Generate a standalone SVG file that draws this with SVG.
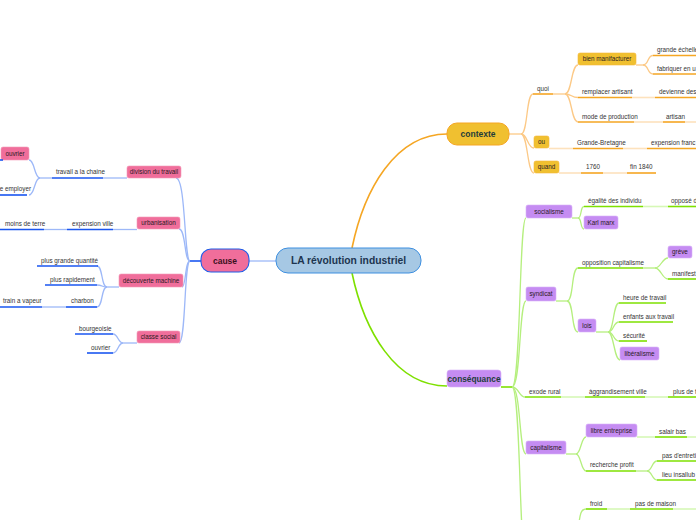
<svg xmlns="http://www.w3.org/2000/svg" width="696" height="520" viewBox="0 0 696 520">
<style>
text{font-family:"Liberation Sans",Arial,sans-serif;font-size:6.3px;fill:#333}
.c{text-anchor:middle}
.e{text-anchor:end}
.n{fill:#2a1a22}
.bold{font-weight:bold}
.ub{stroke:#1a56f0;stroke-width:1.6}
.uo{stroke:#f5a623;stroke-width:1.6}
.ug{stroke:#7ee000;stroke-width:1.6}
.cb{fill:none;stroke:#9db8f8;stroke-width:1.3}
.co{fill:none;stroke:#fcc986;stroke-width:1.3}
.cg{fill:none;stroke:#b5ef7e;stroke-width:1.3}
.pb{stroke:#c5d5fb;stroke-width:1.6}
.po{stroke:#fde2bd;stroke-width:1.6}
.pg{stroke:#d6f8b6;stroke-width:1.6}
.pink{fill:#f06e9b;stroke:#f49ab9;stroke-width:0.6}
.gold{fill:#f0c030;stroke:#f5b73a;stroke-width:0.6}
.purple{fill:#c58cf2;stroke:#d8b2f8;stroke-width:0.6}
</style>
<rect width="696" height="520" fill="#ffffff"/>

<g id="connectors">
  <!-- central branches -->
  <path class="cb" d="M249 261 H276"/>
  <path d="M352 248 C364 190 395 134 447 134" fill="none" stroke="#f5a623" stroke-width="1.6"/>
  <path d="M352 273 C364 330 395 386 447 386" fill="none" stroke="#7ee000" stroke-width="1.6"/>

  <!-- cause -->
  <path class="ub" d="M190 261 H201"/>
  <path class="cb" d="M190 261 C184 261 186 178 176 178"/>
  <path class="cb" d="M190 261 C184 261 186 229 179 229"/>
  <path class="cb" d="M190 261 C185 261 186 287 182 287"/>
  <path class="cb" d="M190 261 C184 261 186 343 179 343"/>

  <path class="cb" d="M103 178 H127"/>
  <path class="cb" d="M40 178 H52"/>
  <path class="cb" d="M40 178 C34 178 35 160 29 160"/>
  <path class="cb" d="M40 178 C34 178 35 195 29 195"/>

  <path class="cb" d="M113 229.5 H137"/>
  <path class="cb" d="M44 229.5 H67"/>

  <path class="cb" d="M107 287 H119"/>
  <path class="cb" d="M107 287 C101 287 103 266 97 266"/>
  <path class="cb" d="M107 287 C101 287 103 285 97 285"/>
  <path class="cb" d="M107 287 C101 287 103 307 97 307"/>
  <path class="cb" d="M42 307 H66"/>

  <path class="cb" d="M123 343 H137"/>
  <path class="cb" d="M123 343 C118 343 118 334 113 334"/>
  <path class="cb" d="M123 343 C118 343 118 353 113 353"/>

  <!-- contexte -->
  <path class="co" d="M509 134 H521"/>
  <path class="co" d="M521 134 C528 134 526 94 533 94"/>
  <path class="co" d="M521 134 C528 134 527 148 534 148"/>
  <path class="co" d="M521 134 C528 134 527 173 534 173"/>
  <path class="co" d="M553 94 H565"/>
  <path class="co" d="M565 94 C572 94 571 65 578 65"/>
  <path class="co" d="M565 94 C572 94 571 97.5 578 97.5"/>
  <path class="co" d="M565 94 C572 94 571 122 578 122"/>
  <path class="po" d="M632 97.5 H655"/>
  <path class="po" d="M634 122 H663"/>
  <path class="po" d="M685 122 H696"/>
  <path class="co" d="M636 65 H643"/>
  <path class="co" d="M643 65 C649 65 647 55.5 653 55.5"/>
  <path class="co" d="M643 65 C649 65 647 74 653 74"/>
  <path class="po" d="M549 148.5 H573"/>
  <path class="po" d="M623 148.5 H647"/>
  <path class="po" d="M559 173 H581"/>
  <path class="po" d="M603 173 H627"/>

  <!-- conséquance -->
  <path class="ug" d="M501 387 H512"/>
  <path class="cg" d="M512 387 C521 387 519 218 526 218"/>
  <path class="cg" d="M512 387 C521 387 519 301 526 301"/>
  <path class="cg" d="M512 387 C519 387 519 397 525 397"/>
  <path class="cg" d="M512 387 C521 387 519 454 526 454"/>
  <path class="cg" d="M512 387 C521 387 519 560 526 560"/>

  <path class="cg" d="M572 218 H578"/>
  <path class="cg" d="M578 218 C582 218 580 206.5 584 206.5"/>
  <path class="cg" d="M578 218 C582 218 580 229 584 229"/>
  <path class="pg" d="M643 206.5 H668"/>

  <path class="cg" d="M556 301 H567"/>
  <path class="cg" d="M567 301 C574 301 571 268 578 268"/>
  <path class="cg" d="M567 301 C574 301 571 332 578 332"/>
  <path class="cg" d="M643 268 H655"/>
  <path class="cg" d="M655 268 C661 268 662 258 668 258"/>
  <path class="cg" d="M655 268 C661 268 662 279 668 279"/>
  <path class="cg" d="M596 332 H608"/>
  <path class="cg" d="M608 332 C614 332 613 303 619 303"/>
  <path class="cg" d="M608 332 C614 332 613 322 619 322"/>
  <path class="cg" d="M608 332 C614 332 613 341 619 341"/>
  <path class="cg" d="M608 332 C614 332 614 360 620 360"/>

  <path class="pg" d="M561 397 H585"/>
  <path class="pg" d="M645 397 H668"/>

  <path class="cg" d="M566 454 H576"/>
  <path class="cg" d="M576 454 C581 454 581 437 586 437"/>
  <path class="cg" d="M576 454 C581 454 581 471 586 471"/>
  <path class="pg" d="M637 437 H655"/>
  <path class="pg" d="M687 437 H696"/>
  <path class="cg" d="M636 471 H647"/>
  <path class="cg" d="M647 471 C652 471 652 461 657 461"/>
  <path class="cg" d="M647 471 C652 471 652 480 657 480"/>
  <path class="cg" d="M586 509 C580 509 580 516 578 530"/>
  <path class="pg" d="M607 509 H630"/>
  <path class="pg" d="M673 509 H696"/>
</g>

<!-- central -->
<g id="central">
  <rect x="276" y="248" width="145" height="25" rx="12" fill="#a6c8e4" stroke="#3d8fe0" stroke-width="1"/>
  <text x="348.5" y="264.3" class="c bold" style="font-size:10.3px;fill:#1d3550">LA révolution industriel</text>
</g>

<!-- cause branch -->
<g id="cause">
  <rect x="201" y="249" width="48" height="23" rx="10" fill="#f06e9b" stroke="#1f5ce8" stroke-width="1.1"/>
  <text x="225" y="263.5" class="c bold" style="font-size:8.5px;fill:#3a1020">cause</text>
</g>
<g id="division-du-travail">
  <rect class="pink" x="127" y="166" width="54" height="12" rx="2"/>
  <text x="154" y="174.2" class="c n">division du travail</text>
</g>
<g id="travail-a-la-chaine">
  <text x="56" y="174">travail a la chaine</text>
  <path class="ub" d="M52 178 H103"/>
</g>
<g id="ouvrier-1">
  <rect class="pink" x="1" y="147" width="28" height="13" rx="2"/>
  <text x="15" y="155.7" class="c n">ouvrier</text>
  <path class="ub" d="M0 160 H3"/>
</g>
<g id="employer">
  <text x="31" y="191" class="e">e employer</text>
  <path class="ub" d="M0 195 H27"/>
</g>
<g id="urbanisation">
  <rect class="pink" x="137" y="217" width="43" height="12" rx="2"/>
  <text x="158.5" y="225.2" class="c n">urbanisation</text>
</g>
<g id="expension-ville">
  <text x="72" y="225.5">expension ville</text>
  <path class="ub" d="M67 229.5 H113"/>
</g>
<g id="moins-de-terre">
  <text x="5" y="225.5">moins de terre</text>
  <path class="ub" d="M0 229.5 H44"/>
</g>
<g id="decouverte-machine">
  <rect class="pink" x="119" y="274" width="64" height="13" rx="2"/>
  <text x="151" y="282.7" class="c n">découverte machine</text>
</g>
<g id="plus-grande-quantite">
  <text x="41" y="262.5">plus grande quantité</text>
  <path class="ub" d="M37 266 H98"/>
</g>
<g id="plus-rapidement">
  <text x="50" y="281.5">plus rapidement</text>
  <path class="ub" d="M45 285 H97"/>
</g>
<g id="charbon">
  <text x="71" y="303">charbon</text>
  <path class="ub" d="M66 307 H97"/>
</g>
<g id="train-a-vapeur">
  <text x="3" y="303">train a vapeur</text>
  <path class="ub" d="M0 307 H42"/>
</g>
<g id="classe-social">
  <rect class="pink" x="137" y="331" width="43" height="12" rx="2"/>
  <text x="158.5" y="339.2" class="c n">classe social</text>
</g>
<g id="bourgeoisie">
  <text x="79" y="330.5">bourgeoisie</text>
  <path class="ub" d="M75 334 H113"/>
</g>
<g id="ouvrier-2">
  <text x="91" y="349.5">ouvrier</text>
  <path class="ub" d="M87 353 H113"/>
</g>

<!-- contexte branch -->
<g id="contexte">
  <rect x="447" y="123" width="62" height="22" rx="10" fill="#f0c030" stroke="#f5a623" stroke-width="1"/>
  <text x="478" y="137" class="c bold" style="font-size:8.5px;fill:#1f3d3a">contexte</text>
</g>
<g id="quoi">
  <text x="537" y="90.5">quoi</text>
  <path class="uo" d="M533 94 H553"/>
</g>
<g id="bien-manifacturer">
  <rect class="gold" x="578" y="53" width="58" height="12" rx="2"/>
  <text x="607" y="61.2" class="c n">bien manifacturer</text>
</g>
<g id="grande-echelle">
  <text x="657" y="52">grande échelle</text>
  <path class="uo" d="M653 55.5 H696"/>
</g>
<g id="fabriquer">
  <text x="657" y="70.5">fabriquer en u</text>
  <path class="uo" d="M653 74 H696"/>
</g>
<g id="remplacer-artisant">
  <text x="582" y="93.5">remplacer artisant</text>
  <path class="uo" d="M578 97.5 H632"/>
</g>
<g id="devienne">
  <text x="659" y="93.5">devienne des</text>
  <path class="uo" d="M655 97.5 H696"/>
</g>
<g id="mode-de-production">
  <text x="582" y="118.5">mode de production</text>
  <path class="uo" d="M578 122 H634"/>
</g>
<g id="artisan">
  <text x="666" y="118.5">artisan</text>
  <path class="uo" d="M663 122 H685"/>
</g>
<g id="ou">
  <rect class="gold" x="534" y="136" width="15" height="12" rx="2"/>
  <text x="541.5" y="144.2" class="c n">ou</text>
</g>
<g id="grande-bretagne">
  <text x="577" y="145">Grande-Bretagne</text>
  <path class="uo" d="M573 148.5 H623"/>
</g>
<g id="expension-franc">
  <text x="651" y="145">expension franc</text>
  <path class="uo" d="M647 148.5 H696"/>
</g>
<g id="quand">
  <rect class="gold" x="534" y="161" width="25" height="12" rx="2"/>
  <text x="546.5" y="169.2" class="c n">quand</text>
</g>
<g id="y1760">
  <text x="586" y="169">1760</text>
  <path class="uo" d="M581 173 H603"/>
</g>
<g id="fin-1840">
  <text x="630" y="169">fin 1840</text>
  <path class="uo" d="M627 173 H656"/>
</g>

<!-- conséquance branch -->
<g id="consequance">
  <rect x="447" y="370" width="54" height="17" rx="3" fill="#c58cf2" stroke="#d8b2f8" stroke-width="0.6"/>
  <text x="474" y="381.5" class="c bold" style="font-size:8.3px;fill:#1d3d3a">conséquance</text>
</g>
<g id="socialisme">
  <rect class="purple" x="526" y="205" width="46" height="13" rx="2"/>
  <text x="549" y="213.7" class="c n">socialisme</text>
</g>
<g id="egalite">
  <text x="588" y="203">égalité  des individu</text>
  <path class="ug" d="M584 206.5 H643"/>
</g>
<g id="oppose">
  <text x="671" y="203">opposé d</text>
  <path class="ug" d="M668 206.5 H696"/>
</g>
<g id="karl-marx">
  <rect class="purple" x="584" y="216" width="34" height="13" rx="2"/>
  <text x="601" y="224.7" class="c n">Karl marx</text>
</g>
<g id="syndicat">
  <rect class="purple" x="526" y="287" width="30" height="14" rx="2"/>
  <text x="541" y="296.2" class="c n">syndicat</text>
</g>
<g id="opposition-capitalisme">
  <text x="582" y="264.5">opposition capitalisme</text>
  <path class="ug" d="M578 268 H643"/>
</g>
<g id="greve">
  <rect class="purple" x="668" y="246" width="24" height="12" rx="2"/>
  <text x="680" y="254.2" class="c n">grève</text>
</g>
<g id="manifest">
  <text x="672" y="275.5">manifest</text>
  <path class="ug" d="M668 279 H696"/>
</g>
<g id="lois">
  <rect class="purple" x="578" y="319" width="18" height="13" rx="2"/>
  <text x="587" y="327.7" class="c n">lois</text>
</g>
<g id="heure-de-travail">
  <text x="623" y="299.5">heure de travail</text>
  <path class="ug" d="M619 303 H666"/>
</g>
<g id="enfants">
  <text x="623" y="318.5">enfants aux travail</text>
  <path class="ug" d="M619 322 H673"/>
</g>
<g id="securite">
  <text x="623" y="337.5">sécurité</text>
  <path class="ug" d="M619 341 H647"/>
</g>
<g id="liberalisme">
  <rect class="purple" x="620" y="347" width="39" height="13" rx="2"/>
  <text x="639.5" y="355.7" class="c n">libéralisme</text>
</g>
<g id="exode-rural">
  <text x="529" y="393.5">exode rural</text>
  <path class="ug" d="M525 397 H561"/>
</g>
<g id="aggrandisement">
  <text x="589" y="393.5">àggrandisement ville</text>
  <path class="ug" d="M585 397 H645"/>
</g>
<g id="plus-de-t">
  <text x="673" y="393.5">plus de t</text>
  <path class="ug" d="M668 397 H696"/>
</g>
<g id="capitalisme">
  <rect class="purple" x="526" y="441" width="40" height="13" rx="2"/>
  <text x="546" y="449.7" class="c n">capitalisme</text>
</g>
<g id="libre-entreprise">
  <rect class="purple" x="586" y="424" width="51" height="13" rx="2"/>
  <text x="611.5" y="432.7" class="c n">libre entreprise</text>
</g>
<g id="salair-bas">
  <text x="659" y="433.5">salair bas</text>
  <path class="ug" d="M655 437 H687"/>
</g>
<g id="recherche-profit">
  <text x="590" y="467">recherche profit</text>
  <path class="ug" d="M586 471 H636"/>
</g>
<g id="pas-entreti">
  <text x="662" y="457.5">pas d'entreti</text>
  <path class="ug" d="M657 461 H696"/>
</g>
<g id="lieu-insallub">
  <text x="662" y="476.5">lieu insallub</text>
  <path class="ug" d="M657 480 H696"/>
</g>
<g id="froid">
  <text x="590" y="505.5">froid</text>
  <path class="ug" d="M586 509 H607"/>
</g>
<g id="pas-de-maison">
  <text x="635" y="505.5">pas de maison</text>
  <path class="ug" d="M630 509 H673"/>
</g>
</svg>
